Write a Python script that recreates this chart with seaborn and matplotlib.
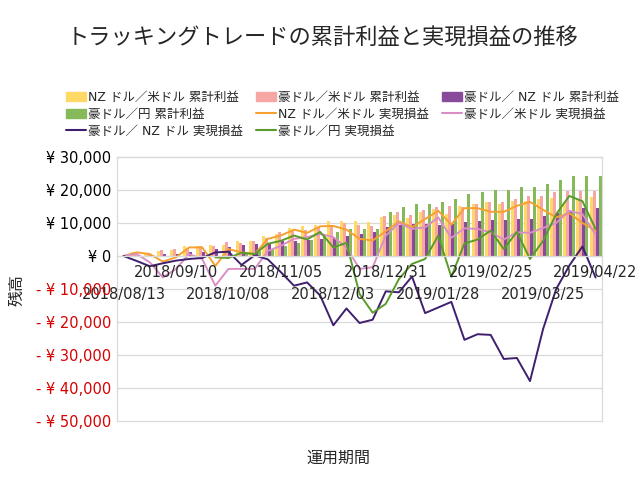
import numpy as np
import pandas as pd
import matplotlib
matplotlib.use("Agg")
import matplotlib.pyplot as plt
from matplotlib.patches import Patch
from matplotlib.lines import Line2D
import seaborn as sns

# weekly categories
dates = [
    "2018/08/13", "2018/08/20", "2018/08/27", "2018/09/03", "2018/09/10", "2018/09/17",
    "2018/09/24", "2018/10/01", "2018/10/08", "2018/10/15", "2018/10/22", "2018/10/29",
    "2018/11/05", "2018/11/12", "2018/11/19", "2018/11/26", "2018/12/03", "2018/12/10",
    "2018/12/17", "2018/12/24", "2018/12/31", "2019/01/07", "2019/01/14", "2019/01/21",
    "2019/01/28", "2019/02/04", "2019/02/11", "2019/02/18", "2019/02/25", "2019/03/04",
    "2019/03/11", "2019/03/18", "2019/03/25", "2019/04/01", "2019/04/08", "2019/04/15",
    "2019/04/22",
]

# cumulative profit (bars)
nzusd_cum = [0, 1100, 700, 1500, 1800, 2900, 2900, 3200, 3200, 4400, 4400, 6200, 6700,
             8500, 9000, 9500, 10500, 10500, 10500, 10400, 11700, 12500, 11500, 13200,
             14200, 12700, 15200, 15800, 16300, 15800, 16800, 16800, 17300, 17500, 16000,
             17300, 17800]
audusd_cum = [0, 800, 1000, 1700, 2000, 2500, 2900, 3000, 4200, 4000, 4400, 5500, 7400,
              7500, 8000, 8800, 9500, 10000, 9300, 9000, 12000, 13200, 12500, 13900,
              14700, 15200, 14700, 15800, 16300, 16500, 17300, 18300, 18300, 19500, 19800,
              19800, 19800]
audnzd_cum = [0, 0, 200, 600, 600, 1100, 1200, 2200, 2700, 3300, 3600, 3900, 4600, 4600,
              4700, 5100, 5400, 6200, 6800, 7200, 8700, 9400, 9700, 9700, 9500, 9700,
              10200, 10700, 10900, 10900, 11200, 11200, 12200, 12900, 13700, 14400, 14400]
audjpy_cum = [0, 0, 0, 0, 0, 0, 0, 0, 300, 1000, 1500, 2200, 3000, 4000, 5000, 6200, 7400,
              8200, 8200, 8200, 13200, 14700, 15800, 15800, 16300, 17300, 18800, 19500,
              20100, 20100, 20800, 20800, 21800, 23100, 24300, 24300, 24300]

# realized P/L (lines)
nzusd_pl = [0, 1100, 600, -1700, -400, 2600, 2600, -3000, 2100, 1100, 600, 5200, 6200,
            8000, 7000, 9000, 9100, 8000, 5200, 4700, 7500, 10500, 8700, 11200, 13700,
            9500, 14500, 14500, 13400, 13400, 15200, 16400, 14000, 11700, 13000, 10000, 7700]
audusd_pl = [0, 600, -1900, -6500, -3900, 600, -900, -9000, -3900, -3900, -3900, 1500,
             3100, 5200, 5700, 6700, 5700, 2600, -3900, -3400, 6200, 10000, 8200, 8700,
             11700, 5500, 8400, 8200, 7200, 5000, 7200, 7000, 8500, 10000, 13700, 12700, 6500]
audnzd_pl = [0, -1500, -3100, -2200, -1400, -900, -600, 1100, 1300, -2700, 200, -1000,
             -4900, -9000, -8000, -12000, -21000, -15900, -20300, -19300, -10700, -11000,
             -6200, -17300, -15600, -13900, -25400, -23700, -23900, -31200, -30900, -37900,
             -22100, -10000, -2900, 2900, -6500]
audjpy_pl = [np.nan] * 7 + [-400, -600, 1000, 600, 3700, 4600, 6200, 5000, 7300, 2600, 4000,
                            -11500, -17200, -14500, -7000, -2400, -900, 6200, -6300, 3800,
                            5000, 7700, 2100, 7300, -900, 4600, 12700, 18200, 16600, 8200]

bar_names = ["NZ ドル／米ドル 累計利益", "豪ドル／米ドル 累計利益",
             "豪ドル／ NZ ドル 累計利益", "豪ドル／円 累計利益"]
line_names = ["NZ ドル／米ドル 実現損益", "豪ドル／米ドル 実現損益",
              "豪ドル／ NZ ドル 実現損益", "豪ドル／円 実現損益"]
bar_colors = ["#FFD966", "#F7A6A6", "#8A4A9C", "#86B95A"]
line_colors = ["#F5A030", "#D98FC6", "#3F1F6E", "#5A9A2A"]
grid_color = "#D9D9D9"

sns.set_style("white")
plt.rcParams["font.family"] = ["DejaVu Sans", "Noto Sans CJK JP"]

bars = pd.DataFrame({
    "date": dates * 4,
    "series": np.repeat(bar_names, len(dates)),
    "value": nzusd_cum + audusd_cum + audnzd_cum + audjpy_cum,
})

fig = plt.figure(figsize=(6.4, 4.8), dpi=100)
ax = fig.add_axes([0.1828, 0.1229, 0.758, 0.55])

sns.barplot(data=bars, x="date", y="value", hue="series", order=dates,
            hue_order=bar_names, palette=bar_colors, width=0.92, saturation=1,
            errorbar=None, legend=False, linewidth=0, ax=ax)

xpos = np.arange(len(dates))
for vals, color in zip([nzusd_pl, audusd_pl, audnzd_pl, audjpy_pl], line_colors):
    v = np.array(vals, dtype=float)
    m = ~np.isnan(v)
    sns.lineplot(x=xpos[m], y=v[m], color=color, linewidth=1.4, ax=ax, legend=False)

ax.set_xlim(-0.5, len(dates) - 0.5)
ax.set_ylim(-50000, 30000)

# gridlines behind the bars
yticks = list(range(-50000, 30001, 10000))
ax.grid(False)
for y in yticks:
    ax.axhline(y, color=grid_color, lw=0.9, zorder=0.5, clip_on=False)
ax.set_axisbelow(False)

ylabels = [f"¥ {v:,}" if v >= 0 else f"- ¥ {abs(v):,}" for v in yticks]
ax.set_yticks(yticks, ylabels)
for lbl, v in zip(ax.get_yticklabels(), yticks):
    lbl.set_color("#D80000" if v < 0 else "black")
ax.tick_params(axis="y", length=0, pad=4, labelsize=10.5)

# staggered date labels, sitting on the zero line
upper = [4, 12, 20, 28, 36]
lower = [0, 8, 16, 24, 32]
ax.set_xticks(upper, [dates[i] for i in upper])
ax.set_xticks(lower, [dates[i] for i in lower], minor=True)
ax.tick_params(axis="x", which="major", length=0, pad=6.5, labelsize=10.5)
ax.tick_params(axis="x", which="minor", length=0, pad=22, labelsize=10.5)
ax.spines["bottom"].set_position(("data", 0))
ax.set_xlabel("")
ax.set_ylabel("")
for s in ax.spines.values():
    s.set_color(grid_color)
    s.set_linewidth(0.9)

handles = [Patch(color=c, label=n) for c, n in zip(bar_colors, bar_names)]
handles += [Line2D([], [], color=c, lw=1.5, label=n) for c, n in zip(line_colors, line_names)]
# row-major order as in the source legend (matplotlib fills columns first)
order = [0, 3, 6, 1, 4, 7, 2, 5]
fig.legend(handles=[handles[i] for i in order], loc="upper left",
           bbox_to_anchor=(66 / 640, 1 - 91 / 480), ncol=3, frameon=False,
           fontsize=9, handlelength=1.6, handleheight=0.7, handletextpad=0.2,
           columnspacing=1.0, labelspacing=0.3, borderpad=0, borderaxespad=0)

fig.text(0.504, 1 - 38 / 480, "トラッキングトレードの累計利益と実現損益の推移",
         ha="center", va="center", fontsize=16)
fig.text(338 / 640, 1 - 458 / 480, "運用期間", ha="center", va="center", fontsize=11.5)
fig.text(17 / 640, 1 - 290 / 480, "残高", ha="center", va="center", rotation=90,
         fontsize=11.5)

fig.savefig("out.png", dpi=100)
